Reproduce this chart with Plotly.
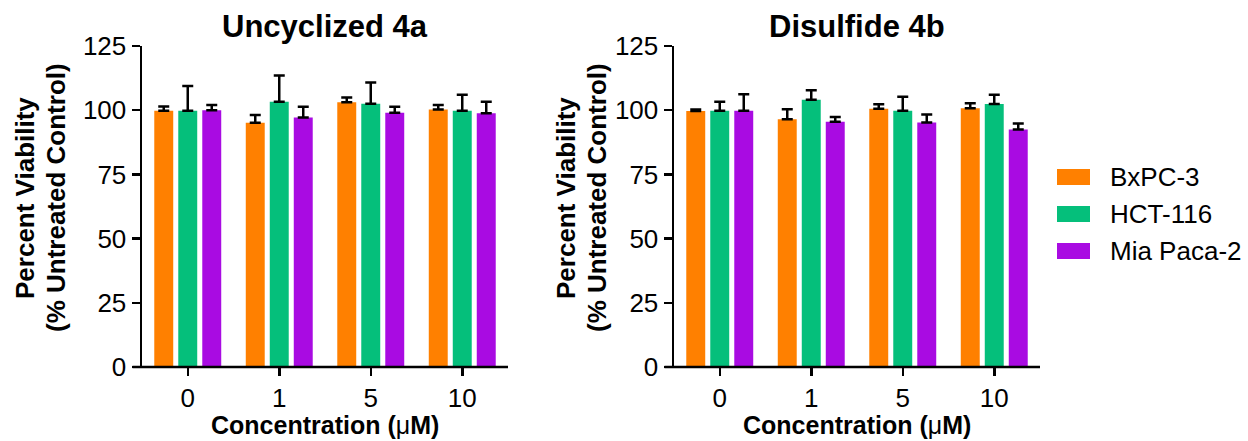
import plotly.graph_objects as go

W, H = 1248, 441

concentrations = ["0", "1", "5", "10"]
cell_lines = ["BxPC-3", "HCT-116", "Mia Paca-2"]
colors = ["#FF8000", "#05BF7B", "#A90BE2"]
panel_titles = ["Uncyclized 4a", "Disulfide 4b"]
y_title_lines = ["Percent Viability", "(% Untreated Control)"]

# Uncyclized 4a
u_bxpc3 = [99.8, 95.1, 103.1, 100.3]
u_bxpc3_err = [1.6, 3.0, 1.8, 1.7]
u_hct116 = [99.8, 103.3, 102.5, 99.8]
u_hct116_err = [9.6, 10.2, 8.3, 6.2]
u_mia = [100.0, 97.2, 99.0, 98.8]
u_mia_err = [2.0, 4.1, 2.3, 4.5]

# Disulfide 4b
d_bxpc3 = [99.7, 96.5, 100.6, 100.8]
d_bxpc3_err = [0.6, 3.9, 1.7, 1.9]
d_hct116 = [99.8, 104.1, 99.8, 102.4]
d_hct116_err = [3.5, 3.7, 5.4, 3.6]
d_mia = [99.8, 95.5, 95.2, 92.5]
d_mia_err = [6.4, 1.9, 3.1, 2.3]

y_ticks = [0, 25, 50, 75, 100, 125]

panels = [
    ([u_bxpc3, u_hct116, u_mia], [u_bxpc3_err, u_hct116_err, u_mia_err]),
    ([d_bxpc3, d_hct116, d_mia], [d_bxpc3_err, d_hct116_err, d_mia_err]),
]

FONT = "Liberation Sans, Arial, sans-serif"

# pixel layout
x_dom_px = [(142, 508), (674, 1040)]
y_top_px, y_bot_px = 46, 367

def px_x(p):
    return p / W

def px_y(p):
    return (H - p) / H

fig = go.Figure()
axis_names = [("x", "y"), ("x2", "y2")]
for i, (means, errs) in enumerate(panels):
    xa, ya = axis_names[i]
    for j, name in enumerate(cell_lines):
        fig.add_trace(go.Bar(
            x=concentrations, y=means[j], name=name,
            marker=dict(color=colors[j], line=dict(width=0)),
            error_y=dict(type="data", array=errs[j], arrayminus=[0] * len(errs[j]),
                         symmetric=False, color="black", thickness=2.5, width=5.5),
            xaxis=xa, yaxis=ya, showlegend=False,
        ))

layout = dict(
    template="none",
    width=W, height=H, autosize=False,
    margin=dict(l=0, r=0, t=0, b=0, pad=0, autoexpand=False),
    paper_bgcolor="white", plot_bgcolor="white",
    barmode="group", bargap=0.213, bargroupgap=0.21,
    font=dict(family=FONT, color="black"),
    showlegend=False,
)

annotations = []
shapes = []
for i in range(2):
    sx = "" if i == 0 else str(i + 1)
    x0p, x1p = x_dom_px[i]
    layout["xaxis" + sx] = dict(
        domain=[px_x(x0p), px_x(x1p)], anchor="y" + sx, type="category",
        range=[-0.5, 3.5], showline=False, ticks="outside", ticklen=8,
        tickwidth=2.5, tickcolor="black", showgrid=False, zeroline=False,
        automargin=False,
        tickfont=dict(size=26, family=FONT, color="black"),
    )
    layout["yaxis" + sx] = dict(
        domain=[px_y(y_bot_px), px_y(y_top_px)], anchor="x" + sx,
        range=[0, 125], tickvals=y_ticks, showline=True, linewidth=2.5,
        linecolor="black", ticks="outside", ticklen=8, tickwidth=2.5,
        tickcolor="black", showgrid=False, zeroline=False, automargin=False,
        tickfont=dict(size=26, family=FONT, color="black"),
    )
    # x axis baseline extending under the y ticks
    shapes.append(dict(type="line", xref="x%s domain" % sx, yref="y%s domain" % sx,
                       x0=-9.5 / (x1p - x0p), x1=1.0, y0=0, y1=0,
                       line=dict(color="black", width=2.5)))
    cx = px_x((x0p + x1p) / 2)
    annotations.append(dict(text="<b>%s</b>" % panel_titles[i], xref="paper", yref="paper",
                            x=cx, y=px_y(26), xanchor="center", yanchor="middle",
                            showarrow=False, font=dict(size=31, family=FONT, color="black")))
    annotations.append(dict(text="<b>Concentration (</b>μ<b>M)</b>", xref="paper", yref="paper",
                            x=cx, y=px_y(425), xanchor="center", yanchor="middle",
                            showarrow=False, font=dict(size=25, family=FONT, color="black")))
    line_x = [25, 56] if i == 0 else [566, 597]
    for k, txt in enumerate(y_title_lines):
        annotations.append(dict(text="<b>%s</b>" % txt,
                                xref="paper", yref="paper", x=px_x(line_x[k]), y=px_y(198),
                                xanchor="center", yanchor="middle", textangle=-90,
                                showarrow=False, font=dict(size=26, family=FONT, color="black")))

# manual legend
row_y = [177, 214, 251]
for j, name in enumerate(cell_lines):
    shapes.append(dict(type="rect", xref="paper", yref="paper",
                       x0=px_x(1057), x1=px_x(1090), y0=px_y(row_y[j] + 8), y1=px_y(row_y[j] - 8),
                       fillcolor=colors[j], line=dict(width=0)))
    annotations.append(dict(text=name, xref="paper", yref="paper", x=px_x(1108), y=px_y(row_y[j]),
                            xanchor="left", yanchor="middle", showarrow=False,
                            font=dict(size=26, family=FONT, color="black")))

layout["annotations"] = annotations
layout["shapes"] = shapes
fig.update_layout(**layout)
fig.write_html("out.html", config={"displayModeBar": False, "staticPlot": True},
               post_script="document.body.style.margin='0';document.body.style.overflow='hidden';")
